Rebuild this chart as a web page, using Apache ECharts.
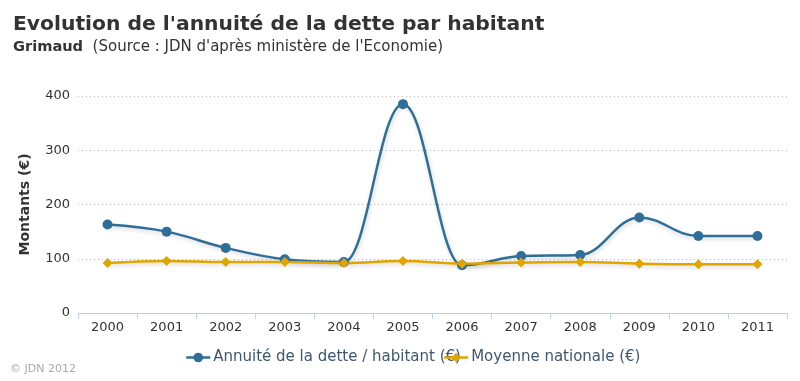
<!DOCTYPE html>
<html><head><meta charset="utf-8">
<script src="https://cdn.jsdelivr.net/npm/echarts@6/dist/echarts.min.js"></script>
<style>html,body{margin:0;padding:0;background:#fff}#c{width:800px;height:381px}</style>
</head><body><div id="c"></div>
<script>
const categories = ['2000','2001','2002','2003','2004','2005','2006','2007','2008','2009','2010','2011'];
const annuite = [163,150,120,99,94,385,88,105,107,176,142,142];
const moyenne = [92,96,94,94,92,96,91,93,94,91,90,90];
const seriesNames = ["Annuité de la dette / habitant (€)", "Moyenne nationale (€)"];
const yTicks = {min:0, max:400, interval:100};

const BLUE = '#2f6e99', GOLD = '#e0a500';
const chart = echarts.init(document.getElementById('c'), null, {renderer:'canvas'});
const F = 'DejaVu Sans';

// Spline path (smoothing 1.5, like the original chart) built from axis coordinates
function splinePath(values, api) {
  const pts = values.map((v, i) => api.coord([i, v]));
  const n = pts.length, sm = 1.5, den = 2.5;
  const L = [], R = [];
  for (let i = 0; i < n; i++) {
    if (i === 0 || i === n - 1) { L.push(null); R.push(null); continue; }
    const [x, y] = pts[i], [lx, ly] = pts[i-1], [nx, ny] = pts[i+1];
    let lcx = (sm*x + lx)/den, lcy = (sm*y + ly)/den;
    let rcx = (sm*x + nx)/den, rcy = (sm*y + ny)/den;
    if (rcx !== lcx) {
      const c = ((rcy - lcy)*(rcx - x))/(rcx - lcx) + y - rcy;
      lcy += c; rcy += c;
    }
    if (lcy > ly && lcy > y) { lcy = Math.max(ly, y); rcy = 2*y - lcy; }
    else if (lcy < ly && lcy < y) { lcy = Math.min(ly, y); rcy = 2*y - lcy; }
    if (rcy > ny && rcy > y) { rcy = Math.max(ny, y); lcy = 2*y - rcy; }
    else if (rcy < ny && rcy < y) { rcy = Math.min(ny, y); lcy = 2*y - rcy; }
    L.push([lcx, lcy]); R.push([rcx, rcy]);
  }
  let d = 'M' + pts[0][0] + ' ' + pts[0][1];
  for (let i = 1; i < n; i++) {
    const c1 = R[i-1] || pts[i-1], c2 = L[i] || pts[i];
    d += ' C' + c1[0] + ' ' + c1[1] + ' ' + c2[0] + ' ' + c2[1] + ' ' + pts[i][0] + ' ' + pts[i][1];
  }
  return d;
}
function curveSeries(values, color) {
  return {
    type:'custom', coordinateSystem:'cartesian2d', data:[[0, values[0]]], z:1, silent:true,
    renderItem:(params, api) => ({
      type:'path',
      shape:{pathData: splinePath(values, api)},
      style:{fill:null, stroke:color, lineWidth:2.5,
             shadowColor:'rgba(0,0,0,0.18)', shadowBlur:4, shadowOffsetX:1, shadowOffsetY:2}
    })
  };
}

chart.setOption({
  animation:false,
  textStyle:{fontFamily:F},
  title:[
    {text:"Evolution de l'annuité de la dette par habitant", left:8, top:10,
     textStyle:{fontFamily:F, fontSize:20.3, fontWeight:'bold', color:'#333'}},
    {text:"{b|Grimaud}{n|  (Source : JDN d'après ministère de l'Economie)}", left:8, top:35,
     textStyle:{fontFamily:F, fontSize:15, fontWeight:'normal', color:'#333',
       rich:{b:{fontFamily:F, fontSize:14.6, fontWeight:'bold', color:'#333'},
             n:{fontFamily:F, fontSize:15, fontWeight:'normal', color:'#333'}}}},
    {text:"© JDN 2012", left:5, top:359,
     textStyle:{fontFamily:F, fontSize:11, fontWeight:'normal', color:'#aaa'}}
  ],
  legend:{bottom:11, left:180, itemGap:-18, itemWidth:24, itemHeight:12,
    lineStyle:{opacity:1, width:2.5},
    textStyle:{fontFamily:F, fontSize:15, color:'#3e576f', padding:[0,0,0,-2]},
    data:[{name:seriesNames[0]},{name:seriesNames[1]}]},
  grid:{left:78, right:13, top:96, bottom:68, containLabel:false},
  xAxis:{type:'category', data:categories, boundaryGap:true,
    axisLine:{lineStyle:{color:'#c0d0e0'}},
    axisTick:{show:true, length:6, lineStyle:{color:'#c0d0e0'}},
    axisLabel:{fontFamily:F, fontSize:13, color:'#333', margin:8}},
  yAxis:{type:'value', min:yTicks.min, max:yTicks.max, interval:yTicks.interval,
    name:'Montants (€)', nameLocation:'middle', nameGap:46, nameRotate:90,
    nameTextStyle:{fontFamily:F, fontSize:14, fontWeight:'bold', color:'#333'},
    axisLine:{show:false}, axisTick:{show:false},
    axisLabel:{fontFamily:F, fontSize:13, color:'#333', margin:8},
    splitLine:{lineStyle:{color:'#bbb', type:[1,3], width:1}}},
  series:[
    curveSeries(annuite, BLUE),
    curveSeries(moyenne, GOLD),
    {name:seriesNames[0], type:'line', data:annuite, symbol:'circle', symbolSize:10, z:3,
     itemStyle:{color:BLUE}, lineStyle:{width:2.5, color:BLUE, opacity:0}},
    {name:seriesNames[1], type:'line', data:moyenne, symbol:'diamond', symbolSize:10, z:3,
     itemStyle:{color:GOLD}, lineStyle:{width:2.5, color:GOLD, opacity:0}}
  ]
});
</script></body></html>
